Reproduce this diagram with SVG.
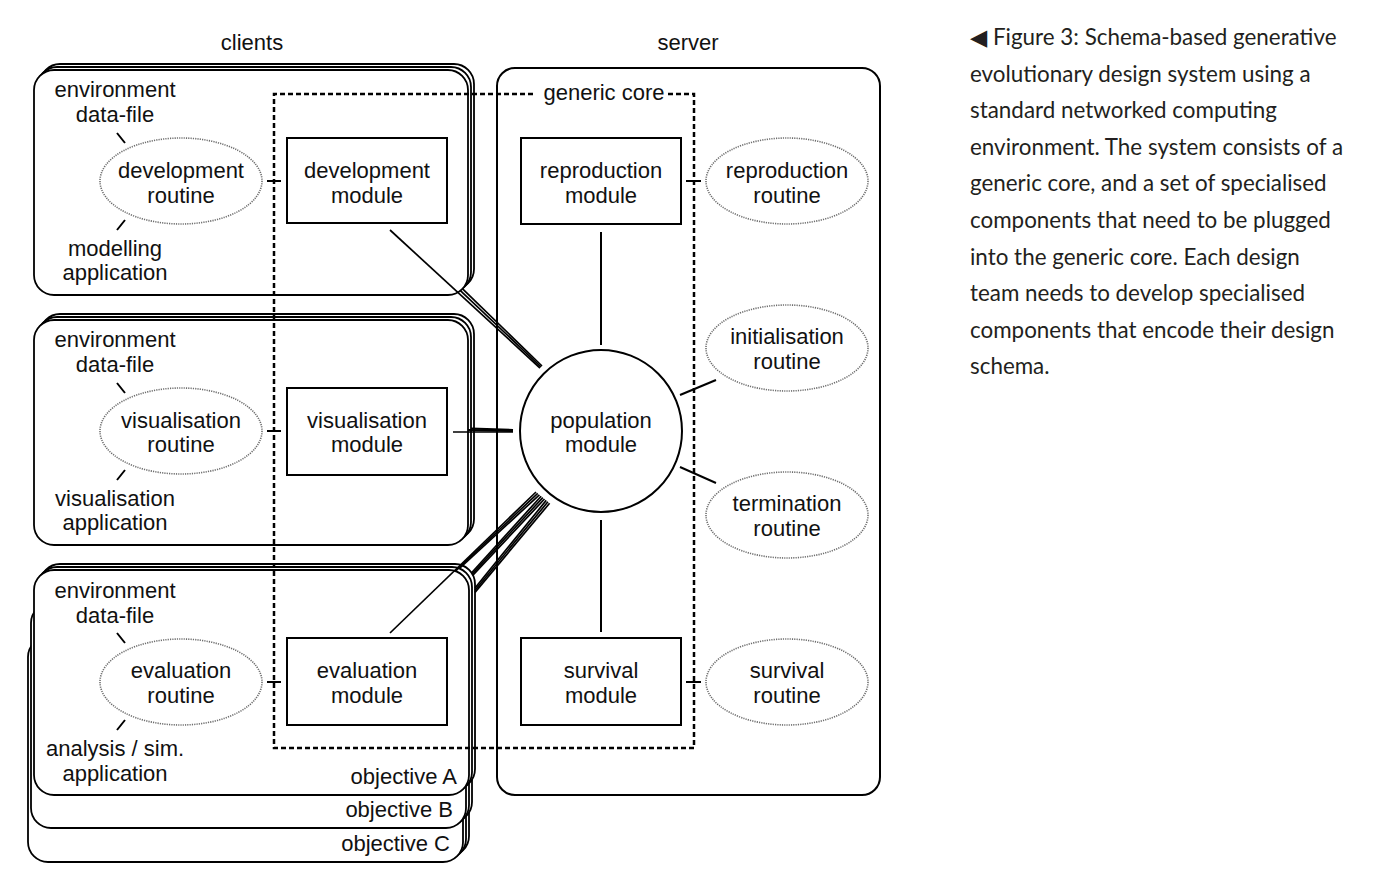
<svg xmlns="http://www.w3.org/2000/svg" width="1374" height="883" viewBox="0 0 1374 883">
<style>
.box{fill:#fff;stroke:#000;stroke-width:1.8}
.srv{fill:#fff;stroke:#000;stroke-width:2}
.mod{fill:#fff;stroke:#000;stroke-width:2}
.rt{fill:#fff;stroke:#6e6e6e;stroke-width:1.6;stroke-dasharray:1.2 1.1}
.t{font-family:"Liberation Sans",Arial,Helvetica,sans-serif;font-size:22px;fill:#111;text-anchor:middle}
.tr{text-anchor:end}
.ln{stroke:#000;stroke-width:2;fill:none}
.thin{stroke:#000;stroke-width:1.7;fill:none}
.thick{stroke:#000;stroke-width:2.2;fill:none}
.dash{fill:none;stroke:#000;stroke-width:2.5;stroke-dasharray:5 3}
.cap{font-family:Lato,"DejaVu Sans",sans-serif;font-size:22.4px;fill:#231f20}
</style>
<rect width="1374" height="883" fill="#fff"/>

<g id="labels">
<text class="t" x="252" y="50">clients</text>
<text class="t" x="688" y="50">server</text>
</g>

<g id="server">
<rect class="srv" x="497" y="68" width="383" height="727" rx="18"/>
</g>

<g id="client-development">
<rect class="box" x="40" y="64" width="434" height="225" rx="20"/>
<rect class="box" x="37" y="67" width="434" height="225" rx="20"/>
<rect class="box" x="34" y="70" width="434" height="225" rx="20"/>
<text class="t" x="115" y="97">environment</text>
<text class="t" x="115" y="122">data-file</text>
<text class="t" x="115" y="256">modelling</text>
<text class="t" x="115" y="280">application</text>
</g>

<g id="client-visualisation">
<rect class="box" x="40" y="314" width="434" height="225" rx="20"/>
<rect class="box" x="37" y="317" width="434" height="225" rx="20"/>
<rect class="box" x="34" y="320" width="434" height="225" rx="20"/>
<text class="t" x="115" y="347">environment</text>
<text class="t" x="115" y="372">data-file</text>
<text class="t" x="115" y="506">visualisation</text>
<text class="t" x="115" y="530">application</text>
</g>

<g id="objective-C">
<rect class="box" x="34" y="631" width="435" height="225" rx="20"/>
<rect class="box" x="31" y="634" width="435" height="225" rx="20"/>
<rect class="box" x="28" y="637" width="435" height="225" rx="20"/>
<text class="t tr" x="450" y="851">objective C</text>
</g>

<g id="objective-B">
<rect class="box" x="37" y="597" width="435" height="225" rx="20"/>
<rect class="box" x="34" y="600" width="435" height="225" rx="20"/>
<rect class="box" x="31" y="603" width="435" height="225" rx="20"/>
<text class="t tr" x="453" y="817">objective B</text>
</g>

<g id="objective-A">
<rect class="box" x="40" y="564" width="435" height="225" rx="20"/>
<rect class="box" x="37" y="567" width="435" height="225" rx="20"/>
<rect class="box" x="34" y="570" width="435" height="225" rx="20"/>
<text class="t" x="115" y="598">environment</text>
<text class="t" x="115" y="623">data-file</text>
<text class="t" x="115" y="756">analysis / sim.</text>
<text class="t" x="115" y="781">application</text>
<text class="t tr" x="457" y="784">objective A</text>
</g>

<g id="generic-core">
<path class="dash" d="M533,94 H274 V748 H694 V94 H668"/>
<text class="t" x="604" y="100">generic core</text>
</g>

<g id="development-routine">
<ellipse class="rt" cx="181" cy="181" rx="81" ry="43"/>
<text class="t" x="181" y="178">development</text>
<text class="t" x="181" y="203">routine</text>
</g>
<g id="development-module">
<rect class="mod" x="287" y="138" width="160" height="85"/>
<text class="t" x="367" y="178">development</text>
<text class="t" x="367" y="203">module</text>
</g>

<g id="visualisation-routine">
<ellipse class="rt" cx="181" cy="431" rx="81" ry="43"/>
<text class="t" x="181" y="428">visualisation</text>
<text class="t" x="181" y="452">routine</text>
</g>
<g id="visualisation-module">
<rect class="mod" x="287" y="388" width="160" height="87"/>
<text class="t" x="367" y="428">visualisation</text>
<text class="t" x="367" y="452">module</text>
</g>

<g id="evaluation-routine">
<ellipse class="rt" cx="181" cy="682" rx="81" ry="43"/>
<text class="t" x="181" y="678">evaluation</text>
<text class="t" x="181" y="703">routine</text>
</g>
<g id="evaluation-module">
<rect class="mod" x="287" y="638" width="160" height="87"/>
<text class="t" x="367" y="678">evaluation</text>
<text class="t" x="367" y="703">module</text>
</g>

<g id="reproduction-module">
<rect class="mod" x="521" y="138" width="160" height="86"/>
<text class="t" x="601" y="178">reproduction</text>
<text class="t" x="601" y="203">module</text>
</g>
<g id="population-module">
<circle class="mod" cx="601" cy="431" r="81"/>
<text class="t" x="601" y="428">population</text>
<text class="t" x="601" y="452">module</text>
</g>
<g id="survival-module">
<rect class="mod" x="521" y="638" width="160" height="87"/>
<text class="t" x="601" y="678">survival</text>
<text class="t" x="601" y="703">module</text>
</g>

<g id="reproduction-routine">
<ellipse class="rt" cx="787" cy="181" rx="81" ry="43"/>
<text class="t" x="787" y="178">reproduction</text>
<text class="t" x="787" y="203">routine</text>
</g>
<g id="initialisation-routine">
<ellipse class="rt" cx="787" cy="348" rx="81" ry="43"/>
<text class="t" x="787" y="344">initialisation</text>
<text class="t" x="787" y="369">routine</text>
</g>
<g id="termination-routine">
<ellipse class="rt" cx="787" cy="515" rx="81" ry="43"/>
<text class="t" x="787" y="511">termination</text>
<text class="t" x="787" y="536">routine</text>
</g>
<g id="survival-routine">
<ellipse class="rt" cx="787" cy="682" rx="81" ry="43"/>
<text class="t" x="787" y="678">survival</text>
<text class="t" x="787" y="703">routine</text>
</g>

<g id="connectors">
<path class="thin" d="M390,230 L540,368"/>
<path class="thin" d="M460.4,290.7 L541,367"/>
<path class="thin" d="M462.6,288.8 L542,366"/>
<path class="thin" d="M453,432 L513,432"/>
<path class="thick" d="M468,430 L513,431"/>
<path class="thick" d="M471,428.5 L513,430"/>
<path class="thin" d="M390,633 L536,492"/>
<path class="thin" d="M455.4,571.1 L537.7,493.4"/>
<path class="thin" d="M459.5,568.5 L539.4,494.8"/>
<path class="thin" d="M471.6,572.8 L541.1,496.2"/>
<path class="thin" d="M472.3,573.9 L542.8,497.6"/>
<path class="thin" d="M472.9,575.1 L544.5,499"/>
<path class="thin" d="M475,588 L546.2,500.4"/>
<path class="thin" d="M475,590.2 L547.9,501.8"/>
<path class="thin" d="M475,592.4 L549.6,503.2"/>
<path class="ln" d="M601,232 V345"/>
<path class="ln" d="M601,520 V632"/>
<path class="ln" d="M680,395 L716,380"/>
<path class="ln" d="M680,467 L716,483"/>
<path class="ln" d="M267,181 H281 M267,431 H281 M267,682 H281 M686,181 H701 M686,682 H701"/>
<path class="ln" d="M117,133 L125,143 M125,220 L117,230 M117,383 L125,393 M125,470 L117,480 M117,633 L125,643 M125,720 L117,730"/>
</g>

<g id="caption">
<text class="cap" x="970" y="45">◀ Figure 3: Schema-based generative</text>
<text class="cap" x="970" y="81.6">evolutionary design system using a</text>
<text class="cap" x="970" y="118.2">standard networked computing</text>
<text class="cap" x="970" y="154.8">environment. The system consists of a</text>
<text class="cap" x="970" y="191.4">generic core, and a set of specialised</text>
<text class="cap" x="970" y="228">components that need to be plugged</text>
<text class="cap" x="970" y="264.6">into the generic core. Each design</text>
<text class="cap" x="970" y="301.2">team needs to develop specialised</text>
<text class="cap" x="970" y="337.8">components that encode their design</text>
<text class="cap" x="970" y="374.4">schema.</text>
</g>
</svg>
